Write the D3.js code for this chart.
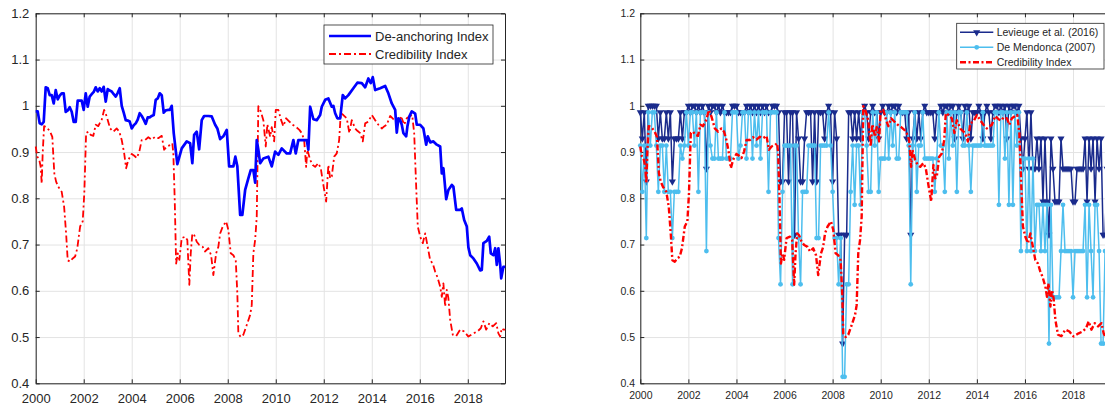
<!DOCTYPE html>
<html>
<head>
<meta charset="utf-8">
<script src="https://cdn.jsdelivr.net/npm/d3@7"></script>
<style>
  body { margin: 0; background: #fff; }
  svg { display: block; font-family: "Liberation Sans", Arial, Helvetica, sans-serif; }
</style>
</head>
<body>
<div id="chart"></div>
<script>
// all series are indexed in months counted from January 2000
var yearTicks = [2000, 2002, 2004, 2006, 2008, 2010, 2012, 2014, 2016, 2018];
var valueTicks = [0.4, 0.5, 0.6, 0.7, 0.8, 0.9, 1, 1.1, 1.2];

// [month, value]
var deAnchoring = [
  [0,.988],[1,.988],[2,.962],[3,.96],[4,.965],[5,1.04],[6,1.038],[7,1.023],[8,1.023],[9,1.005],[10,1.034],[11,1.014],
  [12,1.022],[13,1.027],[14,1.027],[15,.987],[16,.99],[17,.997],[18,.987],[19,.965],[20,.965],[21,1.011],[22,1.011],[23,1.011],
  [24,.991],[25,1.027],[26,.998],[27,1.02],[28,1.025],[29,1.03],[30,1.04],[31,1.031],[32,1.038],[33,1.031],[34,1.041],[35,1.009],
  [36,1.036],[37,1.033],[38,1.031],[39,1.025],[40,1.02],[41,1.028],[42,1.038],[43,1.0],[44,.985],[45,.969],[46,.968],[47,.966],
  [48,.951],[49,.958],[50,.962],[51,.97],[52,.984],[53,.978],[54,.97],[55,.961],[56,.975],[57,.975],[58,.978],[59,.98],
  [60,1.013],[61,1.016],[62,1.027],[63,1.023],[64,.985],[65,.99],[66,.991],[67,.991],[68,1.0],[69,.941],[70.8,.874],
  [73,.908],[75.5,.923],[77.2,.919],[78.3,.876],[79.2,.937],[80.5,.944],[81.7,.906],[83,.969],[84.2,.978],[86.3,.978],
  [88,.977],[89.7,.959],[90.8,.951],[92.2,.928],[93.8,.934],[95.5,.948],[96.7,.869],[98.8,.869],[99.8,.89],[100.8,.869],
  [102.2,.764],[103.3,.764],[104.7,.818],[106.3,.843],[107.5,.861],[108.8,.861],[109.7,.834],[110.5,.926],[111.3,.905],
  [112.2,.876],[113.8,.886],[116.3,.89],[118,.869],[119.7,.901],[121.3,.894],[123,.908],[125.5,.897],[127.2,.897],
  [128.8,.926],[130,.897],[131.3,.926],[135.5,.926],[136.3,.905],[137.2,.998],[138.8,.971],[140.5,.969],[142.2,.98],
  [143,.998],[144.7,1.013],[146.3,1.016],[148,.998],[148.8,1.0],[149.7,.984],[150.8,.973],[152.2,.973],[153.5,1.023],
  [154.7,1.016],[156.3,1.023],[158.8,1.038],[160.8,1.05],[163,1.049],[164.7,1.04],[166.3,1.059],[167.5,1.049],
  [168.5,1.062],[169.7,1.034],[172.2,1.038],[174.7,1.043],[176.3,1.027],[178,1.005],[179.7,.991],[180.5,.942],
  [181.3,.973],[182.2,.969],[183,.959],[183.8,.941],[185.2,.934],[185.8,.955],[186.8,.977],[188,.988],[189.7,.983],
  [190.5,.959],[192.2,.959],[193.8,.951],[195.2,.916],[196,.934],[197.2,.921],[198.8,.923],[200.5,.916],[202.2,.912],
  [203,.854],[203.8,.865],[205.2,.798],[206.3,.818],[208,.829],[208.8,.825],[210.2,.775],[212.2,.775],[213,.778],
  [214.2,.753],[215.5,.739],[216.3,.694],[217.2,.677],[218.8,.67],[220.5,.659],[222.2,.644],[223,.645],[223.8,.703],
  [225.5,.708],[226.7,.717],[227.5,.681],[228.8,.677],[229.7,.692],[230.5,.656],[231.3,.692],[232.2,.656],[232.7,.627],
  [233.8,.652],[234.7,.652]
];

var credibility = [
  [0,.912],[0.8,.89],[1.8,.883],[2.5,.868],[3,.832],[3.5,.898],[4.2,.956],[5.5,.954],[7.2,.944],[8.3,.933],[9.3,.854],
  [10.2,.836],[11.3,.825],[13,.814],[14.2,.782],[15.2,.724],[16,.666],[17.2,.663],[18.5,.67],[19.7,.674],[20.8,.692],
  [22.2,.739],[23.5,.75],[24.3,.811],[25.2,.941],[26.3,.944],[27.5,.937],[28.8,.935],[30,.959],[31.3,.956],[32.2,.964],
  [33,.97],[34.2,.991],[35.5,.977],[37.2,.951],[38.8,.944],[40.5,.951],[41.8,.944],[43,.926],[44.2,.898],[45.2,.865],
  [46.3,.883],[48,.896],[49.3,.892],[50.5,.887],[51.8,.901],[53,.926],[54.7,.926],[56.3,.932],[58,.927],[59.7,.933],
  [61.3,.93],[63,.935],[64.2,.905],[65.5,.912],[67.2,.915],[68.3,.919],[68.8,.898],[69.5,.796],[70.2,.659],[71,.681],
  [71.8,.667],[73,.714],[74.7,.717],[75.8,.71],[76.8,.613],[77.5,.681],[78.3,.724],[79.3,.72],[80.5,.706],[81.8,.699],
  [83.5,.695],[84.7,.685],[86.3,.692],[87.7,.677],[88.8,.634],[90.2,.681],[91.3,.695],[92.2,.724],[93.5,.739],[95.2,.75],
  [96.3,.732],[97.5,.681],[98.8,.677],[100,.666],[100.8,.594],[101.3,.508],[102.5,.5],[103.8,.505],[105.5,.526],
  [107.2,.548],[108,.569],[108.8,.681],[109.7,.71],[110.5,.76],[111.3,.999],[112.5,.988],[113.8,.969],[115,.912],
  [115.8,.96],[117.2,.933],[118,.954],[119.2,.923],[120,.991],[121.3,.991],[122.7,.969],[123.8,.956],[125.2,.973],
  [126.8,.966],[128.5,.959],[130.2,.954],[131.8,.948],[133,.941],[134.2,.926],[135.2,.868],[135.8,.905],[137.2,.883],
  [138.5,.872],[139.7,.868],[141.3,.876],[142.5,.865],[143.8,.829],[145.2,.793],[146.3,.872],[147.2,.843],[148,.847],
  [149.2,.89],[150.5,.897],[151.7,.926],[152.5,.984],[153.8,.98],[155.5,.973],[156.8,.941],[158,.969],[159.7,.951],
  [160.8,.946],[162.2,.941],[163.5,.923],[164.7,.962],[166.3,.966],[168,.98],[169.7,.969],[171.3,.959],[173,.951],
  [173.8,.954],[175.5,.959],[177.2,.978],[178.8,.971],[180.2,.968],[181.3,.975],[183,.973],[184.2,.959],[185.5,.973],
  [186.8,.977],[188.2,.98],[189.2,.941],[190.2,.825],[191,.739],[192.2,.717],[193.5,.703],[194.7,.724],[195.8,.699],
  [197.2,.666],[198.5,.659],[199.7,.641],[200.8,.63],[202.2,.609],[203,.587],[203.8,.616],[204.7,.566],[205.5,.602],
  [206.3,.584],[207.2,.537],[208.5,.505],[210.2,.502],[212.2,.516],[214.2,.512],[216.3,.501],[218.8,.508],[220.8,.512],
  [222.5,.519],[223.8,.534],[225.2,.516],[226.8,.53],[228.5,.523],[230.2,.53],[231.3,.508],[232.2,.501],[233,.519],
  [233.8,.516],[234.7,.516]
];

// monthly, one row per year
var levieuge = [
  .986,.929,.986,.836,1,1,1,1,1,.929,.986,.929,
  .929,.986,.929,.986,.836,.929,.929,.929,.986,.929,.986,.986,
  1,.986,1,1,.986,1,.986,1,.986,.864,1,.986,
  1,1,.986,1,.986,1,.986,.986,.986,.986,1,1,
  1,.986,.986,.986,.986,1,.986,1,.986,1,.986,1,
  .986,1,.986,1,.986,.986,1,1,1,.986,.836,.836,
  .986,.986,.836,.986,.986,.721,.986,.929,.836,.836,.929,.986,
  .986,.986,.836,.986,.836,.986,.986,.986,.929,.986,1,.986,
  .836,.986,.929,.721,.721,.486,.721,.721,.986,.986,.929,.986,
  .929,.986,.929,.986,1,.986,.929,.986,1,.986,.986,.929,
  .986,1,.986,.986,1,.986,1,1,.986,1,.986,.986,
  .986,.929,.986,.721,.929,.986,.929,.986,.929,.986,1,.986,
  .986,.986,.986,.929,.986,.986,1,.986,1,1,.986,1,
  1,.929,.986,1,.986,.929,1,.986,1,.929,.986,.986,
  .986,1,.986,.929,.986,1,.986,.929,.986,1,1,.986,
  1,.986,1,.929,1,.986,1,1,.986,1,.929,.864,
  .929,.986,.864,.986,.864,.864,.929,.864,.929,.793,.929,.793,
  .721,.929,.864,.793,.793,.793,.929,.864,.864,.864,.864,.864,
  .793,.793,.864,.864,.864,.864,.929,.793,.929,.864,.929,.793,
  .929,.864,.929,.721,.721,.864,.929
];

var deMendonca = [
  .914,.814,.914,.714,.986,.914,.986,.986,.914,.814,.914,.914,
  .814,.914,.814,.814,.714,.814,.814,.814,.914,.886,.914,.986,
  .914,.986,.986,.914,.986,.814,.986,.986,.986,.686,.986,.914,
  .886,.886,.986,.886,.886,.886,.986,.886,.886,.886,.986,.986,
  .986,.886,.914,.986,.986,.886,.986,.986,.886,.986,.914,.986,
  .886,.986,.986,.986,.814,.986,.986,.986,.986,.714,.614,.814,
  .914,.914,.914,.914,.614,.914,.914,.714,.614,.814,.814,.814,
  .914,.914,.914,.914,.714,.714,.914,.914,.914,.914,.986,.914,
  .814,.714,.714,.614,.714,.414,.414,.614,.614,.814,.914,.786,
  .914,.914,.786,.986,.986,.914,.814,.814,.986,.914,.986,.814,
  .886,.886,.886,.986,.886,.986,.914,.986,.886,.886,.986,.986,
  .986,.986,.914,.614,.914,.986,.814,.914,.914,.986,.886,.886,
  .886,.886,.886,.814,.886,.986,.914,.914,.814,.986,.886,.986,
  .914,.986,.814,.986,.986,.914,.914,.986,.914,.814,.914,.914,
  .914,.914,.914,.986,.914,.914,.914,.914,.914,.986,.986,.786,
  .986,.986,.886,.986,.786,.986,.786,.986,.914,.986,.686,.886,
  .886,.686,.886,.686,.886,.686,.786,.786,.686,.786,.686,.786,
  .486,.786,.586,.586,.586,.586,.686,.786,.686,.686,.686,.686,
  .586,.686,.686,.686,.686,.686,.786,.586,.786,.686,.586,.786,
  .786,.686,.486,.486,.686,.686,.686
];

var BLUE = "#0000ff", RED = "#ff0000", NAVY = "#1a2b8c", SKY = "#4dbeee";
var AXIS = "#262626", GRID = "#e3e3e3";
var TOP = 13.3, BOTTOM = 383.3;

var svg = d3.select("#chart").append("svg")
  .attr("width", 1105)
  .attr("height", 406);

function monthToYear(m) { return 2000 + m / 12; }

function drawPanel(cfg) {
  var x = d3.scaleLinear().domain([2000, 2019.55]).range([cfg.left, cfg.right]);
  var y = d3.scaleLinear().domain([0.4, 1.2]).range([BOTTOM, TOP]);
  var g = svg.append("g").style("font-size", cfg.font + "px");

  // grid
  g.append("g")
    .attr("transform", "translate(0," + BOTTOM + ")")
    .call(d3.axisBottom(x).tickValues(yearTicks).tickSize(-(BOTTOM - TOP)).tickFormat(""))
    .call(function (s) { s.select(".domain").remove(); })
    .selectAll("line").attr("stroke", GRID);
  g.append("g")
    .attr("transform", "translate(" + cfg.left + ",0)")
    .call(d3.axisLeft(y).tickValues(valueTicks).tickSize(-(cfg.right - cfg.left)).tickFormat(""))
    .call(function (s) { s.select(".domain").remove(); })
    .selectAll("line").attr("stroke", GRID);

  // frame with inward ticks
  var axes = [
    g.append("g").attr("transform", "translate(0," + BOTTOM + ")")
      .call(d3.axisBottom(x).tickValues(yearTicks).tickFormat(d3.format("d"))
        .tickSizeInner(-4).tickSizeOuter(0).tickPadding(cfg.xPad)),
    g.append("g").attr("transform", "translate(" + cfg.left + ",0)")
      .call(d3.axisLeft(y).tickValues(valueTicks).tickFormat(d3.format("~g"))
        .tickSizeInner(-4).tickSizeOuter(0).tickPadding(cfg.yPad)),
    g.append("g").attr("transform", "translate(0," + TOP + ")")
      .call(d3.axisTop(x).tickValues(yearTicks).tickFormat("").tickSizeInner(-4).tickSizeOuter(0)),
    g.append("g").attr("transform", "translate(" + cfg.right + ",0)")
      .call(d3.axisRight(y).tickValues(valueTicks).tickFormat("").tickSizeInner(-4).tickSizeOuter(0))
  ];
  axes.forEach(function (a) {
    a.attr("font-family", null).attr("font-size", null);
    a.select(".domain").attr("stroke", AXIS);
    a.selectAll(".tick line").attr("stroke", AXIS);
    a.selectAll(".tick text").attr("fill", AXIS);
  });

  return { g: g, x: x, y: y };
}

function pairLine(p) {
  return d3.line()
    .x(function (d) { return p.x(monthToYear(d[0])); })
    .y(function (d) { return p.y(d[1]); });
}

function monthlyLine(p) {
  return d3.line()
    .x(function (d, i) { return p.x(monthToYear(i)); })
    .y(function (d) { return p.y(d); });
}

// ---- left panel
var left = drawPanel({ left: 35.7, right: 505, font: 13, xPad: 10, yPad: 6.4 });

left.g.append("path")
  .datum(credibility)
  .attr("d", pairLine(left))
  .attr("fill", "none")
  .attr("stroke", RED)
  .attr("stroke-width", 1.8)
  .attr("stroke-dasharray", "7,3,2,3")
  .attr("stroke-linejoin", "round");

left.g.append("path")
  .datum(deAnchoring)
  .attr("d", pairLine(left))
  .attr("fill", "none")
  .attr("stroke", BLUE)
  .attr("stroke-width", 2.7)
  .attr("stroke-linejoin", "round");

var leg1 = left.g.append("g");
leg1.append("rect")
  .attr("x", 324).attr("y", 25).attr("width", 169).attr("height", 39)
  .attr("fill", "#fff").attr("stroke", AXIS).attr("stroke-width", 0.8);
leg1.append("line")
  .attr("x1", 329).attr("x2", 371).attr("y1", 36).attr("y2", 36)
  .attr("stroke", BLUE).attr("stroke-width", 2.7);
leg1.append("line")
  .attr("x1", 329).attr("x2", 371).attr("y1", 54).attr("y2", 54)
  .attr("stroke", RED).attr("stroke-width", 1.8).attr("stroke-dasharray", "7,3,2,3");
leg1.selectAll("text")
  .data(["De-anchoring Index", "Credibility Index"])
  .enter().append("text")
    .attr("x", 375)
    .attr("y", function (d, i) { return 36 + i * 18; })
    .attr("dy", "0.35em")
    .attr("fill", AXIS)
    .text(function (d) { return d; });

// ---- right panel (runs past the right edge of the picture)
var right = drawPanel({ left: 640.3, right: 640.3 + 19.55 * 24.04, font: 10.5, xPad: 8.5, yPad: 5.3 });

var tri = d3.symbol().type(d3.symbolTriangle).size(22);

right.g.append("path")
  .datum(levieuge)
  .attr("d", monthlyLine(right))
  .attr("fill", "none")
  .attr("stroke", NAVY)
  .attr("stroke-width", 1.5);
right.g.append("g")
  .selectAll("path")
  .data(levieuge)
  .enter().append("path")
    .attr("d", tri)
    .attr("transform", function (d, i) {
      return "translate(" + right.x(monthToYear(i)) + "," + right.y(d) + ") rotate(180)";
    })
    .attr("fill", NAVY);

right.g.append("path")
  .datum(deMendonca)
  .attr("d", monthlyLine(right))
  .attr("fill", "none")
  .attr("stroke", SKY)
  .attr("stroke-width", 1.5);
right.g.append("g")
  .selectAll("circle")
  .data(deMendonca)
  .enter().append("circle")
    .attr("cx", function (d, i) { return right.x(monthToYear(i)); })
    .attr("cy", function (d) { return right.y(d); })
    .attr("r", 2.4)
    .attr("fill", SKY);

right.g.append("path")
  .datum(credibility)
  .attr("d", pairLine(right))
  .attr("fill", "none")
  .attr("stroke", RED)
  .attr("stroke-width", 2.4)
  .attr("stroke-dasharray", "6,2.5,2,2.5")
  .attr("stroke-linejoin", "round");

var leg2 = right.g.append("g");
leg2.append("rect")
  .attr("x", 956.7).attr("y", 23.3).attr("width", 147.3).attr("height", 45.7)
  .attr("fill", "#fff").attr("stroke", AXIS).attr("stroke-width", 0.8);
var legItems = [
  { label: "Levieuge et al. (2016)", color: NAVY, width: 1.5, dash: null, mark: "tri" },
  { label: "De Mendonca (2007)", color: SKY, width: 1.5, dash: null, mark: "dot" },
  { label: "Credibility Index", color: RED, width: 2.4, dash: "6,2.5,2,2.5", mark: null }
];
legItems.forEach(function (it, i) {
  var yy = 32.3 + i * 15;
  leg2.append("line")
    .attr("x1", 960).attr("x2", 993.3).attr("y1", yy).attr("y2", yy)
    .attr("stroke", it.color).attr("stroke-width", it.width)
    .attr("stroke-dasharray", it.dash);
  if (it.mark === "tri") {
    leg2.append("path").attr("d", tri)
      .attr("transform", "translate(976.7," + yy + ") rotate(180)")
      .attr("fill", it.color);
  } else if (it.mark === "dot") {
    leg2.append("circle").attr("cx", 976.7).attr("cy", yy).attr("r", 2.4).attr("fill", it.color);
  }
  leg2.append("text")
    .attr("x", 996.7).attr("y", yy).attr("dy", "0.35em")
    .attr("fill", AXIS)
    .text(it.label);
});
</script>
</body>
</html>
